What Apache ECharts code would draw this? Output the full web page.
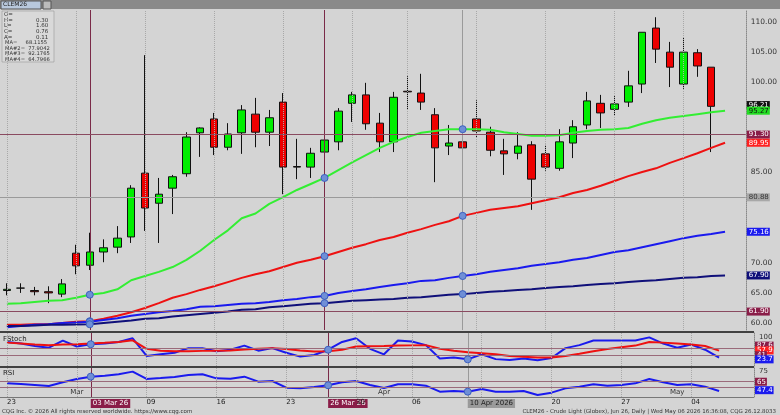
<!DOCTYPE html>
<html><head><meta charset="utf-8">
<script src="https://cdn.jsdelivr.net/npm/echarts@6/dist/echarts.min.js"></script>
<style>html,body{margin:0;padding:0;background:#d4d4d4}#c{width:780px;height:415px}</style>
</head><body><div id="c"></div>
<script>
const dates = ['23','24','25','26','27','02','03','04','05','06','09','10','11','12','13','16','17','18','19','20','23','24','25','26','27','30','31','01','02','06','07','08','09','10','13','14','15','16','17','20','21','22','23','24','27','28','29','30','01','04','05','06','',''];
const dayLabels = {0:'23',10:'09',15:'16',20:'23',25:'30',29:'06',39:'20',44:'27',49:'04'};
const monthLabels = {5:'Mar',27:'Apr',48:'May'};
const markDates = {6:'03 Mar 26',23:'26 Mar 26',33:'10 Apr 2026'};
// [open, close, low, high]
const ohlc = [
[65.4,65.6,64.6,66.6],[65.8,65.8,65.0,66.6],[65.4,65.2,64.6,66.0],[65.2,65.0,63.3,66.1],[64.8,66.5,64.3,67.3],
[71.6,69.5,68.1,73.0],[69.6,71.8,68.8,75.0],[71.8,72.5,70.1,73.9],[72.6,74.1,71.6,76.1],[74.3,82.4,73.3,82.9],
[84.9,79.1,75.3,104.5],[79.9,81.4,73.3,84.1],[82.4,84.3,78.1,84.6],[84.8,90.9,84.3,91.7],[91.6,92.4,87.6,92.5],
[93.9,89.2,87.9,94.9],[89.2,91.4,88.7,93.2],[91.6,95.4,88.1,96.2],[94.7,91.7,89.2,97.4],[91.7,94.1,89.4,95.4],
[96.7,85.9,81.4,98.2],[86.0,85.9,83.9,90.6],[85.9,88.2,84.1,89.1],[88.4,90.4,86.1,92.1],[90.1,95.2,88.7,95.7],
[96.5,97.9,93.4,98.4],[97.9,93.1,92.1,99.9],[93.2,90.1,88.4,94.9],[90.1,97.5,88.4,98.4],[98.5,98.4,95.4,101.0],
[98.2,96.7,95.4,101.4],[94.6,89.1,83.4,95.7],[89.4,89.9,87.9,92.9],[90.1,89.1,88.7,90.5],[93.9,91.9,90.9,97.0],
[91.7,88.7,87.7,92.6],[88.6,88.1,84.6,90.6],[88.2,89.4,87.2,91.7],[89.6,83.9,78.8,90.2],[88.1,85.9,85.3,89.6],
[85.7,90.1,85.3,92.2],[89.9,92.6,87.4,93.7],[92.9,96.9,92.2,98.4],[96.5,94.9,92.4,97.9],[95.5,96.4,94.4,97.7],
[96.7,99.4,95.9,101.9],[99.7,108.3,98.2,108.3],[109.0,105.5,103.2,110.8],[105.0,102.5,99.2,106.7],[99.7,105.0,98.9,107.5],
[104.9,102.7,100.9,105.5],[102.5,96.0,88.4,102.5]];
const ma1 = [63.2,63.3,63.5,63.7,63.8,64.2,64.7,65.0,65.6,67.1,67.8,68.5,69.3,70.5,72.0,73.8,75.4,77.4,78.2,79.8,80.9,82.1,83.1,84.1,85.4,86.7,87.9,89.1,90.1,90.9,91.6,91.9,92.2,92.2,92.2,92.1,91.7,91.4,91.1,91.1,91.2,91.6,91.9,92.1,92.2,92.4,93.1,93.7,94.1,94.4,94.7,95.0,95.27];
const ma2 = [59.7,59.7,59.8,59.8,60.0,60.2,60.3,60.7,61.2,61.8,62.5,63.3,64.2,64.8,65.5,66.1,66.8,67.5,68.1,68.6,69.3,70.0,70.5,71.1,71.8,72.5,73.1,73.8,74.3,75.0,75.6,76.3,76.9,77.8,78.3,78.8,79.1,79.4,79.9,80.4,80.9,81.6,82.1,82.8,83.6,84.4,85.1,85.7,86.6,87.4,88.2,89.1,89.95];
const ma3 = [59.3,59.5,59.7,59.8,60.0,60.1,60.2,60.5,60.8,61.2,61.5,61.8,62.0,62.3,62.7,62.8,63.0,63.2,63.3,63.5,63.8,64.0,64.3,64.5,65.0,65.3,65.6,66.0,66.3,66.6,67.0,67.1,67.5,67.8,68.1,68.5,68.8,69.1,69.5,69.8,70.1,70.5,70.8,71.3,71.8,72.1,72.6,73.1,73.6,74.1,74.5,74.8,75.16];
const ma4 = [59.5,59.5,59.6,59.7,59.7,59.75,59.8,60.0,60.2,60.4,60.7,60.8,61.1,61.3,61.5,61.7,61.9,62.2,62.3,62.6,62.8,63.0,63.2,63.3,63.5,63.7,63.8,63.9,64.0,64.2,64.3,64.5,64.7,64.8,65.0,65.2,65.3,65.5,65.6,65.8,66.0,66.1,66.3,66.5,66.6,66.8,67.0,67.1,67.3,67.5,67.6,67.8,67.9];
const stochK = [80,73,62,55,86,60,70,73,80,96,19,26,33,53,53,39,46,64,42,53,33,16,23,46,80,96,50,26,86,82,66,8,12,4,26,5,1,8,0,10,53,66,86,86,86,86,100,73,55,69,46,12];
const stochD = [77,73,69,66,69,70,73,76,80,87,50,42,39,39,41,42,43,47,50,53,49,43,38,39,46,60,61,62,64,65,66,50,42,35,31,26,19,15,12,12,19,28,39,49,57,64,80,77,73,69,62,42];
const rsi = [56.0,55.0,53.5,51.9,57.6,62.7,66.3,67.8,69.9,74.0,62.7,64.2,65.8,68.8,69.9,63.7,63.2,66.3,58.6,59.6,49.4,48.3,50.4,53.0,57.6,59.6,53.5,48.8,54.5,54.5,52.4,43.2,44.2,43.2,47.3,43.2,43.2,44.2,38.1,41.7,48.3,50.9,54.5,52.4,53.5,56.0,62.7,57.6,53.5,54.5,50.9,44.2];
const mainTicks = [60,65,70,85,100,105,110];
const weekStarts = [0,5,10,15,20,25,29,34,39,44,49];
const crossIdx = [6,23,33];

const cats = dates.map((d,i)=>i);
const F = 'DejaVu Sans';
function tag(v, bg, fg, txt){return {yAxis:v,lineStyle:{color:'rgba(0,0,0,0)',width:0},label:{show:true,position:'end',distance:1,formatter:txt||v.toFixed(2),backgroundColor:bg,color:fg||'#fff',fontSize:7,fontFamily:F,padding:[1,1,0,2]}};}
const blank = {show:false};
function vlines(){return weekStarts.map(i=>({xAxis:i,lineStyle:{color:'#a8a8a8',type:'dotted',width:1},label:blank})).concat(
  crossIdx.map((i,k)=>({xAxis:i,lineStyle:{color:k<2?'#7a2a48':'#9a9a9a',type:'solid',width:1},label:blank})));}
function xa(g, extra){return Object.assign({type:'category',gridIndex:g,data:cats,boundaryGap:true,axisLine:blank,axisTick:blank,axisLabel:blank,splitLine:blank},extra||{});}
const circ = (series, idxs) => idxs.map(i=>({coord:[i,series[i]]}));
const mpStyle = {symbol:'circle',symbolSize:7,itemStyle:{color:'#6f8fd6',borderColor:'#3a5fc0',borderWidth:1},label:{show:false}};

const option = {
  animation:false, backgroundColor:'#d4d4d4',
  grid:[{left:0,right:26,top:10,height:320},{left:0,right:26,top:333,height:33},{left:0,right:26,top:368,height:29}],
  xAxis:[xa(0),xa(1),
    xa(2,{position:'bottom',axisLabel:{show:true,interval:0,align:'left',margin:2,fontSize:7,fontFamily:F,color:'#222',
      formatter:(v)=>markDates[v]?'{m'+(v==33?'g':'r')+'|'+markDates[v]+'}':(dayLabels[v]||''),
      rich:{mr:{backgroundColor:'#8a1d48',color:'#fff',fontSize:7,padding:[1,2]},mg:{backgroundColor:'#9a9a9a',color:'#222',fontSize:7,padding:[1,2]}}}}),
    xa(2,{position:'bottom',axisLabel:{show:true,inside:true,margin:1,interval:0,fontSize:7,fontFamily:F,color:'#333',formatter:(v)=>monthLabels[v]||''}})],
  yAxis:[
    {type:'value',gridIndex:0,position:'right',min:58.84,max:112,axisLine:{show:true,lineStyle:{color:'#888',type:'dotted'}},axisTick:blank,splitLine:blank,
     axisLabel:{show:true,customValues:mainTicks,formatter:v=>v.toFixed(2),fontSize:7.5,fontFamily:F,color:'#333',margin:5}},
    {type:'value',gridIndex:1,position:'right',min:-25,max:119,axisLine:{show:true,lineStyle:{color:'#888',type:'dotted'}},axisTick:blank,splitLine:blank,
     axisLabel:{show:true,customValues:[100],fontSize:7,fontFamily:F,color:'#333',margin:5}},
    {type:'value',gridIndex:2,position:'right',min:35,max:79.6,axisLine:{show:true,lineStyle:{color:'#888',type:'dotted'}},axisTick:blank,splitLine:blank,
     axisLabel:{show:true,customValues:[75],fontSize:7,fontFamily:F,color:'#333',margin:5}}
  ],
  graphic:[
    {type:'rect',shape:{x:0,y:0,width:780,height:9},style:{fill:'#8a8a8a'}},
    {type:'rect',shape:{x:1,y:1,width:40,height:8},style:{fill:'#b8c8dc',stroke:'#555'}},
    {type:'text',x:3,y:1.5,style:{text:'CLEM26',fontSize:6,fontFamily:F,fill:'#222'}},
    {type:'rect',shape:{x:43,y:1,width:8,height:8},style:{fill:'#bbb',stroke:'#555'}},
    {type:'line',shape:{x1:0,y1:332,x2:754,y2:332},style:{stroke:'#111',lineWidth:1.5}},
    {type:'line',shape:{x1:0,y1:367,x2:754,y2:367},style:{stroke:'#111',lineWidth:1.5}},
    {type:'line',shape:{x1:0,y1:397.5,x2:754,y2:397.5},style:{stroke:'#777',lineWidth:1}},
    {type:'rect',shape:{x:2,y:11,width:52,height:51},style:{fill:'#d9d9d9',stroke:'#999',lineWidth:0.6}},
    {type:'text',x:4,y:12,style:{text:'O=\nH=\nL=\nC=\nA=',fontSize:5.5,lineHeight:5.6,fontFamily:F,fill:'#333'}},
    {type:'text',x:36,y:12,style:{text:'\n0.30\n1.60\n0.76\n0.11',fontSize:5.5,lineHeight:5.6,fontFamily:F,fill:'#333'}},
    {type:'text',x:5,y:40,style:{text:'MA=     68.1155\nMA#2=  77.9042\nMA#3=  92.1765\nMA#4=  64.7966',fontSize:5.2,lineHeight:5.5,fontFamily:F,fill:'#333'}},
    {type:'text',x:3,y:336,style:{text:'FStoch',fontSize:7,fontFamily:F,fill:'#222'}},
    {type:'text',x:3,y:370,style:{text:'RSI',fontSize:7,fontFamily:F,fill:'#222'}},
    {type:'text',x:2,y:408.5,style:{text:'CQG Inc. © 2026 All rights reserved worldwide. https://www.cqg.com',fontSize:5.5,fontFamily:F,fill:'#333'}},
    {type:'text',right:4,y:408.5,style:{text:'CLEM26 - Crude Light (Globex), Jun 26, Daily | Wed May 06 2026 16:36:08, CQG 26.12.8033',fontSize:5.5,fontFamily:F,fill:'#333'}}
  ],
  series:[
    {type:'candlestick',xAxisIndex:0,yAxisIndex:0,data:ohlc,barWidth:8,
     itemStyle:{color:'#00ee00',color0:'#ee0000',borderColor:'#111',borderColor0:'#111',borderWidth:1},
     markLine:{silent:true,symbol:'none',animation:false,data:vlines().concat([
       {yAxis:91.30,lineStyle:{color:'#8a4a60',type:'solid',width:1},label:blank},
       {yAxis:80.88,lineStyle:{color:'#9a9a9a',type:'solid',width:1},label:blank},
       {yAxis:61.90,lineStyle:{color:'#8a4a60',type:'solid',width:1},label:blank},
       tag(96.21,'#111'),tag(91.30,'#8a1d48'),tag(80.88,'#a8a8a8','#333'),tag(61.90,'#8a1d48')])}},
    {type:'line',xAxisIndex:0,yAxisIndex:0,data:ma1,showSymbol:false,lineStyle:{color:'#33ee33',width:2},
     markLine:{silent:true,symbol:'none',data:[tag(95.27,'#22dd22','#111')]},markPoint:Object.assign({data:circ(ma1,crossIdx)},mpStyle)},
    {type:'line',xAxisIndex:0,yAxisIndex:0,data:ma2,showSymbol:false,lineStyle:{color:'#ee1111',width:2},
     markLine:{silent:true,symbol:'none',data:[tag(89.95,'#ff2020')]},markPoint:Object.assign({data:circ(ma2,crossIdx)},mpStyle)},
    {type:'line',xAxisIndex:0,yAxisIndex:0,data:ma3,showSymbol:false,lineStyle:{color:'#1a1aee',width:2},
     markLine:{silent:true,symbol:'none',data:[tag(75.16,'#1a1aee')]},markPoint:Object.assign({data:circ(ma3,crossIdx)},mpStyle)},
    {type:'line',xAxisIndex:0,yAxisIndex:0,data:ma4,showSymbol:false,lineStyle:{color:'#10107a',width:2},
     markLine:{silent:true,symbol:'none',data:[tag(67.90,'#10107a')]},markPoint:Object.assign({data:circ(ma4,crossIdx)},mpStyle)},
    {type:'line',xAxisIndex:1,yAxisIndex:1,data:stochK,showSymbol:false,lineStyle:{color:'#1a1aee',width:2},
     markLine:{silent:true,symbol:'none',data:vlines().concat([
       {yAxis:54,lineStyle:{color:'#9a6a7a',type:'solid',width:1},label:blank},
       {yAxis:21,lineStyle:{color:'#9a6a7a',type:'solid',width:1},label:blank},
       tag(64,'#8a1d48','#fff','87.6'),tag(43,'#ff2020','#fff','57.9'),tag(22,'#8a1d48','#fff','41'),tag(4,'#1a1aee','#fff','23.7')])},
     markPoint:Object.assign({data:circ(stochK,crossIdx)},mpStyle)},
    {type:'line',xAxisIndex:1,yAxisIndex:1,data:stochD,showSymbol:false,lineStyle:{color:'#ee1111',width:2}},
    {type:'line',xAxisIndex:2,yAxisIndex:2,data:rsi,showSymbol:false,lineStyle:{color:'#1a1aee',width:2},
     markLine:{silent:true,symbol:'none',data:vlines().concat([
       {yAxis:58.5,lineStyle:{color:'#9a6a7a',type:'solid',width:1},label:blank},
       {yAxis:49.3,lineStyle:{color:'#9a6a7a',type:'solid',width:1},label:blank},
       tag(58.5,'#8a1d48','#fff','65'),tag(45.5,'#1a1aee','#fff','47.4')])},
     markPoint:Object.assign({data:circ(rsi,crossIdx)},mpStyle)},
    {type:'line',xAxisIndex:3,yAxisIndex:2,data:[],showSymbol:false}
  ]
};
const chart = echarts.init(document.getElementById('c'),null,{renderer:'canvas'});
chart.setOption(option);
</script></body></html>
